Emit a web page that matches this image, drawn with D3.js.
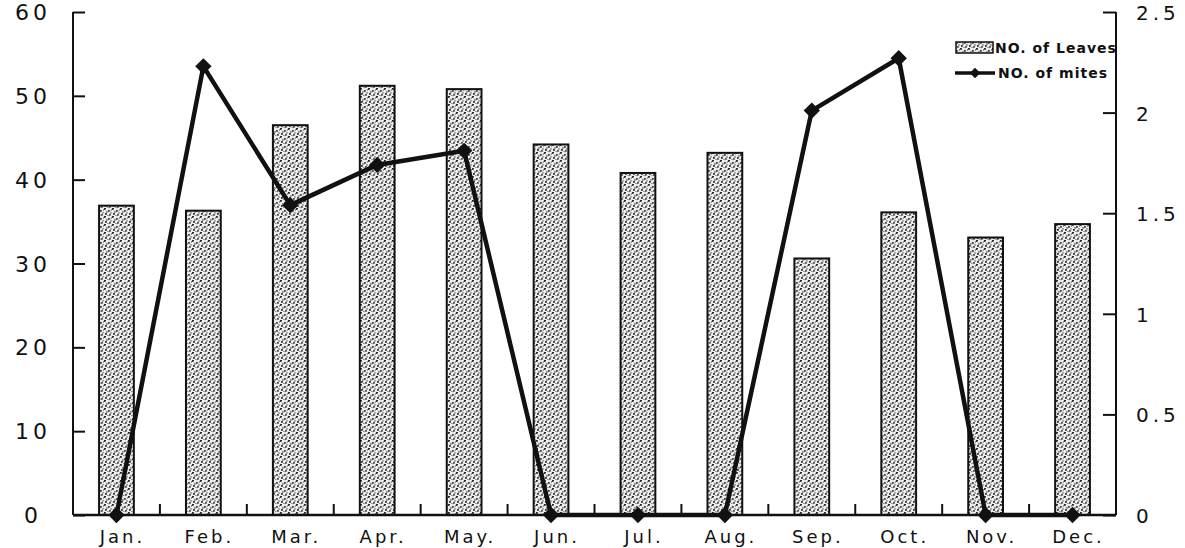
<!DOCTYPE html>
<html>
<head>
<meta charset="utf-8">
<script src="https://cdn.jsdelivr.net/npm/d3@7"></script>
<style>
  html, body { margin: 0; padding: 0; background: #fff; }
  svg { display: block; }
</style>
</head>
<body>
<svg id="chart" width="1185" height="548"></svg>
<script>
const months = ["Jan.", "Feb.", "Mar.", "Apr.", "May.", "Jun.", "Jul.", "Aug.", "Sep.", "Oct.", "Nov.", "Dec."];
const leaves = [36.9, 36.3, 46.5, 51.2, 50.8, 44.2, 40.8, 43.2, 30.6, 36.1, 33.1, 34.7];
const mites = [0, 2.23, 1.54, 1.74, 1.81, 0, 0, 0, 2.01, 2.27, 0, 0];
const leftTicks = [0, 10, 20, 30, 40, 50, 60];
const rightTicks = [0, 0.5, 1, 1.5, 2, 2.5];
const rightTickLabels = ["0", "0.5", "1", "1.5", "2", "2.5"];
const legendLabels = ["NO. of Leaves", "NO. of mites"];

const svg = d3.select("#chart");
const X0 = 73, X1 = 1116, Y0 = 515, Y1 = 12;

// stipple pattern
const defs = svg.append("defs");
const pat = defs.append("pattern").attr("id", "stip").attr("patternUnits", "userSpaceOnUse")
  .attr("width", 8).attr("height", 8);
pat.append("rect").attr("width", 8).attr("height", 8).attr("fill", "#ececec");
[[0,0,"#222"],[4,2,"#444"],[1,5,"#333"],[5,6,"#555"],[2,3,"#888"],[6,4,"#999"],[3,7,"#999"],[7,1,"#888"]].forEach(([a,b,c]) => {
  pat.append("rect").attr("x", a).attr("y", b).attr("width", 1.8).attr("height", 1.8).attr("fill", c);
});

const x = d3.scaleBand().domain(months).range([X0, X1]).paddingInner(0.6).paddingOuter(0.3);
const xb = d3.scaleBand().domain(months).range([X0, X1]).padding(0);
const yL = d3.scaleLinear().domain([0, 60]).range([Y0, Y1]);
const yR = d3.scaleLinear().domain([0, 2.5]).range([Y0, Y1]);

const font = "'DejaVu Sans', 'Liberation Sans', sans-serif";

// bars
svg.append("g").selectAll("rect").data(leaves).join("rect")
  .attr("x", (d, i) => x(months[i]))
  .attr("y", d => yL(d))
  .attr("width", x.bandwidth())
  .attr("height", d => Y0 - yL(d))
  .attr("fill", "url(#stip)")
  .attr("stroke", "#111").attr("stroke-width", 2);

// left axis
const gL = svg.append("g").attr("transform", `translate(${X0},0)`)
  .call(d3.axisRight(yL).tickValues(leftTicks).tickSize(12).tickFormat(""));
gL.select(".domain").attr("stroke", "#111").attr("stroke-width", 2).attr("d", `M0,${Y1}V${Y0}`);
gL.selectAll(".tick line").attr("stroke", "#111").attr("stroke-width", 2);
svg.append("g").selectAll("text").data(leftTicks).join("text")
  .attr("x", 33).attr("y", d => yL(d) + 8)
  .attr("text-anchor", "middle")
  .attr("font-family", font).attr("font-size", 22).attr("letter-spacing", 4)
  .attr("fill", "#111")
  .text(d => d);

// right axis
const gR = svg.append("g").attr("transform", `translate(${X1},0)`)
  .call(d3.axisLeft(yR).tickValues(rightTicks).tickSize(13).tickFormat(""));
gR.select(".domain").attr("stroke", "#111").attr("stroke-width", 2).attr("d", `M0,${Y1}V${Y0}`);
gR.selectAll(".tick line").attr("stroke", "#111").attr("stroke-width", 2);
svg.append("g").selectAll("text").data(rightTicks).join("text")
  .attr("x", 1136).attr("y", d => yR(d) + 8)
  .attr("text-anchor", "start")
  .attr("font-family", font).attr("font-size", 20).attr("letter-spacing", 4)
  .attr("fill", "#111")
  .text((d, i) => rightTickLabels[i]);

// x axis
const gX = svg.append("g").attr("transform", `translate(0,${Y0})`)
  .call(d3.axisTop(xb).tickSize(0).tickFormat(""));
gX.select(".domain").attr("stroke", "#111").attr("stroke-width", 2.5).attr("d", `M${X0},0H${X1}`);
gX.selectAll(".tick").remove();
svg.append("g").selectAll("line").data(months.slice(1)).join("line")
  .attr("x1", d => xb(d)).attr("x2", d => xb(d))
  .attr("y1", Y0).attr("y2", Y0 - 11)
  .attr("stroke", "#111").attr("stroke-width", 2);
svg.append("g").selectAll("text").data(months).join("text")
  .attr("x", d => xb(d) + xb.bandwidth() / 2 + 6)
  .attr("y", 543)
  .attr("text-anchor", "middle")
  .attr("font-family", font).attr("font-size", 18).attr("letter-spacing", 3)
  .attr("fill", "#111")
  .text(d => d);

// mites line
const cx = (i) => xb(months[i]) + xb.bandwidth() / 2;
const line = d3.line().x((d, i) => cx(i)).y(d => yR(d));
svg.append("path").datum(mites).attr("d", line)
  .attr("fill", "none").attr("stroke", "#111").attr("stroke-width", 4.5).attr("stroke-linejoin", "round");
const diamond = d3.symbol().type(d3.symbolDiamond2).size(170);
svg.append("g").selectAll("path").data(mites).join("path")
  .attr("transform", (d, i) => `translate(${cx(i)},${yR(d)})`)
  .attr("d", diamond).attr("fill", "#111");

// legend
const lg = svg.append("g");
lg.append("rect").attr("x", 956).attr("y", 42).attr("width", 37).attr("height", 11)
  .attr("fill", "url(#stip)").attr("stroke", "#111").attr("stroke-width", 1.5);
lg.append("text").attr("x", 995).attr("y", 53).text(legendLabels[0])
  .attr("font-family", font).attr("font-size", 14).attr("font-weight", "bold").attr("letter-spacing", 1).attr("fill", "#111");
lg.append("line").attr("x1", 955).attr("x2", 995).attr("y1", 73).attr("y2", 73)
  .attr("stroke", "#111").attr("stroke-width", 3.5);
lg.append("path").attr("transform", "translate(975,73)").attr("d", d3.symbol().type(d3.symbolDiamond2).size(70)).attr("fill", "#111");
lg.append("text").attr("x", 998).attr("y", 78).text(legendLabels[1])
  .attr("font-family", font).attr("font-size", 14).attr("font-weight", "bold").attr("letter-spacing", 1).attr("fill", "#111");
</script>
</body>
</html>
